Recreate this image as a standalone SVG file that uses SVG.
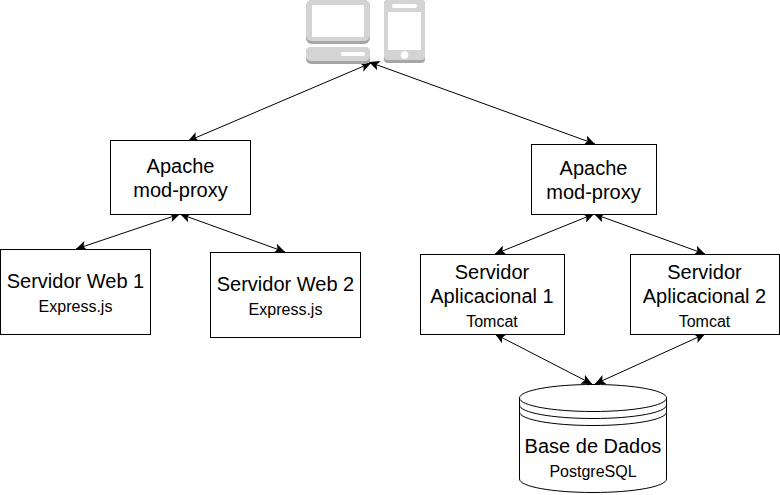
<svg xmlns="http://www.w3.org/2000/svg" width="780" height="495" viewBox="0 0 780 495">
<style>
.box{fill:#fff;stroke:#000;stroke-width:1}
.t{font-family:"Liberation Sans",Arial,sans-serif;font-size:20px;fill:#000;text-anchor:middle}
.s{font-family:"Liberation Sans",Arial,sans-serif;font-size:16px;fill:#000;text-anchor:middle}
.c{fill:none;stroke:#000;stroke-width:1;marker-start:url(#a);marker-end:url(#a)}
</style>
<defs>
<marker id="a" markerUnits="userSpaceOnUse" markerWidth="12" markerHeight="10" refX="11" refY="5" orient="auto-start-reverse" viewBox="0 0 12 10"><path d="M0.500 0L11 5L0.500 10L3 5Z" fill="#000"/></marker>
</defs>
<rect width="780" height="495" fill="#fff"/>
<g id="connectors">
<path class="c" d="M188 141L371 63"/>
<path class="c" d="M595 144L369 62"/>
<path class="c" d="M76 249L180 214"/>
<path class="c" d="M285 252L180 214"/>
<path class="c" d="M495 254L594 214"/>
<path class="c" d="M705 254L594 214"/>
<path class="c" d="M495 334L592 384"/>
<path class="c" d="M705 334L595 384"/>
</g>
<g id="clients">
<rect x="306" y="0" width="64" height="44" rx="6" fill="#a6a6a6"/>
<rect x="306" y="0" width="64" height="41" rx="6" fill="#d4d4d4"/>
<rect x="312" y="5" width="52" height="32" rx="1" fill="#fff"/>
<rect x="306" y="47" width="64" height="17" rx="5" fill="#a6a6a6"/>
<rect x="306" y="47" width="64" height="14" rx="5" fill="#d4d4d4"/>
<rect x="341" y="52" width="24" height="4" rx="2" fill="#fff"/>
<rect x="384" y="0" width="41" height="63" rx="4" fill="#a6a6a6"/>
<rect x="384" y="0" width="41" height="60" rx="4" fill="#d4d4d4"/>
<rect x="388" y="12" width="33" height="38" fill="#fff"/>
<rect x="392" y="4" width="25" height="4" rx="2" fill="#fff"/>
<circle cx="404.500" cy="55" r="3.800" fill="#fff"/>
</g>
<g id="apache1">
<rect class="box" x="110.500" y="140.500" width="140" height="74"/>
<text class="t" x="180.500" y="173">Apache</text>
<text class="t" x="180.500" y="197">mod-proxy</text>
</g>
<g id="apache2">
<rect class="box" x="531.500" y="144.500" width="125" height="70"/>
<text class="t" x="593.500" y="175">Apache</text>
<text class="t" x="593.500" y="199">mod-proxy</text>
</g>
<g id="web1">
<rect class="box" x="0.500" y="249.500" width="150" height="85"/>
<text class="t" x="75.500" y="288">Servidor Web 1</text>
<text class="s" x="75.500" y="312">Express.js</text>
</g>
<g id="web2">
<rect class="box" x="210.500" y="252.500" width="150" height="85"/>
<text class="t" x="285.500" y="291">Servidor Web 2</text>
<text class="s" x="285.500" y="315">Express.js</text>
</g>
<g id="app1">
<rect class="box" x="420.500" y="254.500" width="144" height="80"/>
<text class="t" x="492" y="279">Servidor</text>
<text class="t" x="492" y="303">Aplicacional 1</text>
<text class="s" x="492" y="327">Tomcat</text>
</g>
<g id="app2">
<rect class="box" x="630.500" y="254.500" width="149" height="80"/>
<text class="t" x="704.500" y="279">Servidor</text>
<text class="t" x="704.500" y="303">Aplicacional 2</text>
<text class="s" x="704.500" y="327">Tomcat</text>
</g>
<g id="database">
<path class="box" d="M519.500 398C519.500 390.500 552 384.500 593 384.500C634 384.500 666.500 390.500 666.500 398V479C666.500 486.500 634 492.500 593 492.500C552 492.500 519.500 486.500 519.500 479Z"/>
<path fill="none" stroke="#000" d="M519.500 398C519.500 405.500 552 411.500 593 411.500C634 411.500 666.500 405.500 666.500 398M519.500 405C519.500 412.500 552 418.500 593 418.500C634 418.500 666.500 412.500 666.500 405M519.500 412C519.500 419.500 552 425.500 593 425.500C634 425.500 666.500 419.500 666.500 412"/>
<text class="t" x="593" y="453">Base de Dados</text>
<text class="s" x="593" y="477">PostgreSQL</text>
</g>
</svg>
